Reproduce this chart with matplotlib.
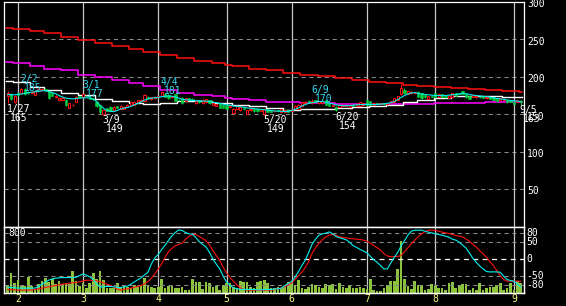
import numpy as np
import pandas as pd
import matplotlib
matplotlib.use('Agg')
import matplotlib.pyplot as plt

# ---------------- data ----------------
holidays = ['2005-02-11', '2005-03-21', '2005-04-29', '2005-05-03', '2005-05-04',
            '2005-05-05', '2005-07-18']
dates = pd.bdate_range('2005-01-27', '2005-09-05')
dates = dates[~dates.isin(pd.to_datetime(holidays))]

opens = [174, 177, 166, 178, 178, 184, 180, 178, 176, 181,
         182, 183.5, 181.5, 178, 172.5, 169, 169.5, 169, 159, 162,
         166.5, 174, 173.5, 175, 172.5, 171.5, 167, 162, 151, 158,
         160, 155.5, 161, 157.5, 157.5, 160, 162.5, 162.5, 166, 168,
         167.5, 173.5, 170, 171.5, 173, 174, 177, 176, 172.5, 176.5,
         169, 172, 167.5, 171.5, 171, 164.5, 169, 164.5, 166, 169,
         162.5, 161.5, 163.5, 163, 162, 159.5, 151.5, 157, 155.5, 158,
         151, 155.5, 157, 157.5, 154.5, 151, 156.5, 155.5, 154, 155.5,
         153, 153, 155.5, 155, 157.5, 157.5, 161.5, 164.5, 168, 164.5,
         169, 164.5, 164.5, 169, 164.5, 161.5, 160, 160, 161.5, 161,
         160, 163, 161.5, 161.5, 162.5, 168.5, 167.5, 163, 165, 164,
         164.5, 163.5, 166, 167, 169, 176.5, 182.5, 177, 178, 178,
         180, 178, 176, 170.5, 174, 178, 173.5, 177, 175, 172,
         173.5, 178, 178, 180.5, 177, 174.5, 173.5, 172.5, 173.5, 174,
         171.5, 172.5, 172.5, 171.5, 169, 169.5, 169, 169, 167, 167,
         168]
closes = [179, 171, 174, 176, 183.5, 177, 178, 179.5, 181, 183.5,
          183.5, 182, 171.5, 175, 175, 172, 172, 162.5, 164.5, 163,
          173.5, 173, 176.5, 174, 171, 170, 161.5, 152.5, 155.5, 155,
          154.5, 160, 158.5, 161.5, 160, 163, 166, 167, 169, 168.5,
          176, 171.5, 172.5, 173.5, 174, 179.5, 173.5, 171.5, 174.5, 168,
          168.5, 164.5, 171.5, 169, 169.5, 168, 166, 169.5, 170, 164.5,
          164.5, 163.5, 159, 159, 157, 160.5, 157.5, 161.5, 160, 156.5,
          155.5, 157.5, 154, 154, 156.5, 157.5, 153, 153, 155, 154.5,
          156.5, 155.5, 153, 156, 161.5, 163, 166.5, 167, 166, 168,
          166.5, 167.5, 167.5, 162.5, 161.5, 163, 155.5, 163, 163, 162.5,
          163, 161.5, 164, 166, 164.5, 163, 163, 164.5, 164, 165,
          163.5, 164.5, 167.5, 171.5, 174.5, 185, 178, 180.5, 180, 179.5,
          173, 171.5, 172.5, 174.5, 173, 172.5, 177, 173.5, 172.5, 175,
          178, 175, 177, 177, 172.5, 170.5, 176, 175, 172.5, 172,
          173.5, 171, 169, 167.5, 171.5, 170, 166, 167, 164, 169,
          166.5]
highs = [181, 178, 175, 179, 185, 184.5, 181, 180.5, 182, 184.5,
         184, 184.5, 182, 179, 175.5, 173, 172.5, 170, 165, 164,
         175, 175, 177, 176, 173, 172, 167.5, 162.5, 156, 158.5,
         160.5, 160.5, 161.5, 162, 160.5, 163.5, 166.5, 167.5, 169.5, 170,
         177, 174, 173, 174, 175, 181, 178, 176.5, 175, 177,
         170, 172.5, 172, 172, 171.5, 168.5, 169.5, 170, 170.5, 169.5,
         165, 164, 164, 163.5, 162.5, 161, 158, 162, 160.5, 158.5,
         156, 158, 157.5, 158, 157, 158, 157, 156, 155.5, 156,
         157, 156, 156, 156.5, 162, 163.5, 167, 167.5, 168.5, 170,
         169.5, 168, 168, 169.5, 165, 163.5, 160.5, 163.5, 163.5, 163,
         163.5, 163.5, 164.5, 166.5, 165, 169, 168, 165, 165.5, 165.5,
         165, 165, 168, 172, 175, 190.5, 185, 181, 180.5, 180,
         180.5, 178.5, 176.5, 175, 174.5, 178.5, 177.5, 177.5, 175.5, 175.5,
         178.5, 178.5, 178.5, 181, 177.5, 175, 176.5, 175.5, 174, 174.5,
         174, 173, 173, 172, 172, 170.5, 169.5, 169.5, 167.5, 169.5,
         168.5]
lows = [165, 169, 165.5, 175, 177, 176, 177, 177, 175.5, 180.5,
        181.5, 181, 171, 174, 172, 168, 168.5, 161, 158, 160.5,
        166, 172, 173, 173, 170, 169, 160, 151, 149, 154,
        154, 155, 158, 157, 157, 159.5, 162, 162, 165.5, 167,
        167, 171, 169.5, 171, 172.5, 173.5, 173, 171, 172, 167.5,
        167.5, 164, 167, 168.5, 169, 164, 165.5, 164, 165.5, 164,
        162, 161, 158.5, 158.5, 156.5, 159, 151, 156.5, 155, 156,
        150.5, 155, 153.5, 153.5, 154, 149, 152.5, 152.5, 153.5, 154,
        152.5, 152.5, 152.5, 154.5, 157, 157, 161, 164, 165.5, 164,
        166, 164, 164, 162, 161, 161, 154, 159.5, 161, 160.5,
        159.5, 161, 161, 161, 162, 162.5, 162.5, 162.5, 163.5, 163.5,
        163, 163, 165.5, 166.5, 168.5, 176, 177, 176.5, 177.5, 177.5,
        172.5, 171, 172, 170, 172.5, 172, 173, 173, 172, 171.5,
        173, 174.5, 176.5, 176.5, 172, 170, 173, 172, 172, 171.5,
        171, 170.5, 168.5, 167, 168.5, 169, 165.5, 166.5, 163.5, 166.5,
        163]
ma_short = [176.5, 176, 176, 176.5, 177, 178, 179, 179.5, 180, 180.5,
            181.5, 181.5, 180, 179, 177.5, 175, 173, 171.5, 171, 170.5,
            171, 171.5, 172, 172, 171.5, 170, 167, 162, 158, 155,
            154, 153.5, 155, 157, 158, 159, 160.5, 162.5, 164.5, 166.5,
            169, 170.5, 171.5, 172, 172.5, 173.5, 174, 174.5, 174, 173,
            171.5, 170, 169.5, 169, 168.5, 168, 168, 167.5, 167.5, 167,
            166, 165.5, 164.5, 163.5, 162.5, 162, 161, 160.5, 160, 159.5,
            158.5, 158, 157.5, 157, 156.5, 156, 155.5, 155, 154.5, 154,
            154, 153.5, 154, 155, 156.5, 158.5, 161, 163, 164.5, 165.5,
            166.5, 167, 167, 166, 165, 164, 162.5, 162, 161.5, 161.5,
            161.5, 162, 162.5, 163, 163, 163, 163, 163, 163, 163.5,
            164, 164.5, 165.5, 167, 169.5, 172.5, 175, 177, 178.5, 179,
            178, 177, 176.5, 176, 175.5, 175, 175, 175, 175, 175.5,
            176, 176.5, 177, 178, 177.5, 176.5, 175.5, 175, 174.5, 174,
            173.5, 173, 172, 171, 170.5, 170, 169, 168.5, 168, 167.5,
            167]
# weekly moving averages (one value per calendar week)
ma_white_w = [195, 193, 187, 182, 178.5, 175.5, 171, 167.5, 164.5, 164, 165.5,
              168, 167.5, 165.7, 165, 163, 160.5, 158, 156, 156.5, 157.2, 158,
              159.5, 161, 163, 166, 168.5, 171.5, 174.5, 175, 175, 173.5, 173.5]
ma_magenta_w = [219.7, 218.5, 214.3, 211, 208.5, 203, 200, 196.4, 192, 187.3, 182.8,
                179, 176, 173.8, 171.5, 170.7, 169.3, 167, 166.2, 165.7, 164.9, 164,
                164, 164, 164, 164, 164, 164.5, 164.5, 165, 166, 166, 166]
ma_red_w = [265.3, 264, 261.6, 258.5, 253, 248.6, 245, 241.4, 237.8, 233, 229,
            225, 221, 218, 216, 214, 210.8, 208.5, 205.4, 203, 200.8, 198,
            195.4, 193.2, 191.5, 189.6, 188, 186.3, 185, 183.6, 182.3, 180.9, 180.3]
volume = [96, 244, 124, 156, 84, 88, 196, 88, 44, 104,
          144, 176, 136, 164, 104, 148, 104, 124, 104, 268,
          144, 88, 116, 56, 116, 236, 164, 268, 156, 56,
          56, 56, 116, 56, 96, 76, 64, 92, 76, 96,
          176, 84, 76, 64, 76, 164, 64, 84, 84, 64,
          56, 76, 36, 36, 164, 136,
          136, 44, 128, 116, 68, 84, 36, 96, 124, 116,
          76, 56, 144, 132, 132, 76, 56, 132, 144, 156,
          116, 64, 56, 76, 56, 84, 128, 116, 96, 156,
          64, 44, 76, 108, 92, 76, 56, 104, 96, 108,
          44, 116, 76, 64, 92, 56, 64, 76, 56, 44,
          164, 36, 28, 28, 56, 96, 144, 144, 288,
          624,
          168, 84, 44, 144, 96, 96, 36, 48, 108, 88,
          64, 64, 36, 116, 136, 56, 96, 108, 108, 36,
          64, 36, 116, 36, 56, 76, 76, 96, 124, 36,
          64, 124, 36, 148, 116]
osc_fast = [-85, -86, -87, -88, -88, -88, -88, -88, -88, -83,
            -76, -70, -64, -60, -58, -57, -56, -56, -56, -56,
            -55, -50, -45, -49, -54, -62, -75, -85, -84, -83,
            -83, -84, -86, -86, -84, -82, -76, -69, -63, -57,
            -48, -40, -15, 3, 14, 28, 42, 56, 70, 80,
            88, 86, 80, 76, 75, 65, 52, 44, 36, 20,
            0, -16, -30, -52, -70, -80, -87, -90, -92, -92,
            -92, -92, -92, -93, -93, -92, -92, -92, -91, -90,
            -88, -80, -74, -68, -55, -38, -20, -3, 20, 45,
            60, 72, 76, 78, 82, 76, 68, 64, 61, 58,
            50, 40, 35, 29, 24, 19, 8, -2, -10, -20,
            -30, -30, -12, 5, 19, 40, 55, 72, 84, 87,
            87, 87, 84, 81, 79, 76, 74, 72, 69, 66,
            60, 57, 51, 42, 33, 18, 2, -10, -21, -30,
            -38, -39, -39, -39, -40, -52, -62, -65, -67, -75,
            -85]
osc_slow = [-92, -93, -93, -94, -94, -94, -94, -94, -92, -90,
            -88, -86, -84, -82, -80, -78, -76, -75, -73, -72,
            -71, -69, -67, -64, -64, -65, -66, -69, -72, -76,
            -79, -85, -91, -94, -92, -90, -88, -85, -83, -80,
            -75, -68, -58, -45, -30, -15, 5, 22, 32, 40,
            44, 48, 60, 68, 74, 74, 68, 62, 55, 42,
            25, 10, -5, -25, -42, -56, -67, -78, -87, -92,
            -94, -94, -94, -94, -94, -94, -94, -94, -92, -90,
            -88, -83, -78, -72, -62, -50, -40, -25, -8, 18,
            34, 48, 58, 67, 72, 74, 72, 67, 65, 64,
            62, 61, 60, 59, 57, 54, 48, 41, 34, 27,
            16, 9, 7, 7, 8, 10, 22, 34, 46, 57,
            67, 76, 82, 87, 87, 87, 84, 81, 79, 77,
            74, 71, 69, 67, 60, 54, 44, 36, 25, 16,
            5, -8, -20, -35, -50, -62, -67, -67, -67, -67,
            -67]
hi_dates = ['2005-02-02', '2005-03-01', '2005-04-04', '2005-06-09']
hi_labels = ['2/2', '3/1', '4/4', '6/9']
hi_values = [185, 177, 181, 170]
lo_dates = ['2005-01-27', '2005-03-09', '2005-05-20', '2005-06-20', '2005-09-05']
lo_labels = ['1/27', '3/9', '5/20', '6/20', '9/5']
lo_values = [165, 149, 149, 154, 163]
price_ticks = [300, 250, 200, 150, 100, 50]
osc_ticks = [80, 50, 0, -50, -80]

# ---------------- style ----------------
RED = '#ff1010'
GREEN = '#00d040'
CYAN = '#00f0f0'
MAG = '#ff00ff'
VOLC = '#8cc43c'
GRID = '#8a8a8a'
VLINE = '#c8c8c8'
YEL = '#ffff80'
TXT_HI = '#38d8f0'
FONT = dict(family='DejaVu Sans Mono', fontsize=7)

W, H = 566, 306
fig = plt.figure(figsize=(W / 100, H / 100), dpi=100, facecolor='black')
L, R = 4, 524
T_MAIN, B_MAIN, B_LOW = 2, 226.5, 293
ax = fig.add_axes([L / W, 1 - B_MAIN / H, (R - L) / W, (B_MAIN - T_MAIN) / H])
axv = fig.add_axes([L / W, 1 - B_LOW / H, (R - L) / W, (B_LOW - B_MAIN) / H])
axo = axv.twinx()
axo.set_zorder(axv.get_zorder() + 1)
axo.patch.set_visible(False)

n = len(dates)
idx = np.arange(n)
XL = (-1.09, 150.95)
for a in (ax, axv, axo):
    a.set_xlim(*XL)
    a.set_facecolor('black')
    a.set_xticks([])
    a.set_yticks([])
    for s in a.spines.values():
        s.set_color('white')
        s.set_linewidth(0.9)
ax.set_ylim(0, 300)
axv.set_ylim(0, 800)
axo.set_ylim(-102.7, 98.2)

month_starts = [i for i in range(1, n) if dates[i].month != dates[i - 1].month]

# grid
for v in price_ticks[1:]:
    ax.axhline(v, color=GRID, lw=0.75, dashes=(4, 3.5), zorder=1)
for v in osc_ticks:
    col = 'white' if v == 0 else GRID
    axo.axhline(v, color=col, lw=0.75 if v else 0.9, dashes=(4, 3.5), zorder=1)
for m in month_starts:
    ax.axvline(m, color=VLINE, lw=0.9, zorder=1)
    axv.axvline(m, color=VLINE, lw=0.9, zorder=1)

# weekly MAs (step lines)
wk = dates.to_period('W')
week_start = np.array([i for i in range(n) if i == 0 or wk[i] != wk[i - 1]])
xs = np.append(week_start - 0.4, n - 0.5)
for vals, col, lw in ((ma_red_w, RED, 1.1), (ma_magenta_w, MAG, 1.1), (ma_white_w, 'white', 1.0)):
    vv = np.append(vals, vals[-1])
    ax.plot(xs, vv, drawstyle='steps-post', color=col, lw=lw, zorder=2)

# candles
o = np.array(opens); c = np.array(closes); h = np.array(highs); l = np.array(lows)
up = c >= o
ax.vlines(idx[up], l[up], h[up], color=RED, lw=0.75, zorder=3)
ax.vlines(idx[~up], l[~up], h[~up], color=GREEN, lw=0.75, zorder=3)
ax.bar(idx[up], (c - o)[up], bottom=o[up], width=0.62, facecolor='black',
       edgecolor=RED, linewidth=0.75, zorder=4)
ax.bar(idx[~up], (o - c)[~up], bottom=c[~up], width=0.7, facecolor=GREEN,
       edgecolor=GREEN, linewidth=0.4, zorder=4)
ax.plot(idx, ma_short, color=CYAN, lw=0.8, zorder=5)

# annotations
pos = {d: i for i, d in enumerate(dates.strftime('%Y-%m-%d'))}
for d, lab, v in zip(hi_dates, hi_labels, hi_values):
    i = pos[d]
    ax.annotate(lab, (i, v), xytext=(-1, 6), textcoords='offset pixels', color=TXT_HI,
                ha='left', va='baseline', zorder=6, annotation_clip=False, **FONT)
    ax.annotate(str(v), (i, v), xytext=(2.5, -3), textcoords='offset pixels', color=TXT_HI,
                ha='left', va='baseline', zorder=6, annotation_clip=False, **FONT)
for d, lab, v in zip(lo_dates, lo_labels, lo_values):
    i = pos[d]
    ax.annotate(lab, (i, v), xytext=(-1, -8.5), textcoords='offset pixels', color='white',
                ha='left', va='baseline', zorder=6, annotation_clip=False, **FONT)
    ax.annotate(str(v), (i, v), xytext=(2.5, -17.5), textcoords='offset pixels', color='white',
                ha='left', va='baseline', zorder=6, annotation_clip=False, **FONT)

# right-hand scale labels
for v in price_ticks:
    ax.annotate(str(v), (1, v), xycoords=('axes fraction', 'data'), xytext=(3, -2.3),
                textcoords='offset pixels', ha='left', va='center', color='white',
                annotation_clip=False, **FONT)
for v in osc_ticks:
    axo.annotate(str(v), (1, v), xycoords=('axes fraction', 'data'), xytext=(2, 0),
                 textcoords='offset pixels', ha='left', va='center', color='white',
                 annotation_clip=False, **FONT)
axv.annotate('800', (0, 1), xycoords='axes fraction', xytext=(4, -1.5),
             textcoords='offset pixels', ha='left', va='top', color='white', zorder=6, **FONT)

# volume and oscillator
axv.bar(idx, volume, width=0.78, color=VOLC, zorder=2)
axo.plot(idx, osc_slow, color=RED, lw=0.8, zorder=3)
axo.plot(idx, osc_fast, color=CYAN, lw=0.8, zorder=4)

# month labels
for m in month_starts:
    axv.annotate(str(dates[m].month), (m, 0), xycoords=('data', 'axes fraction'),
                 xytext=(0, -6), textcoords='offset pixels', ha='center', va='center',
                 color=YEL, annotation_clip=False, **FONT)

fig.savefig('out.png', dpi=100, facecolor='black')
